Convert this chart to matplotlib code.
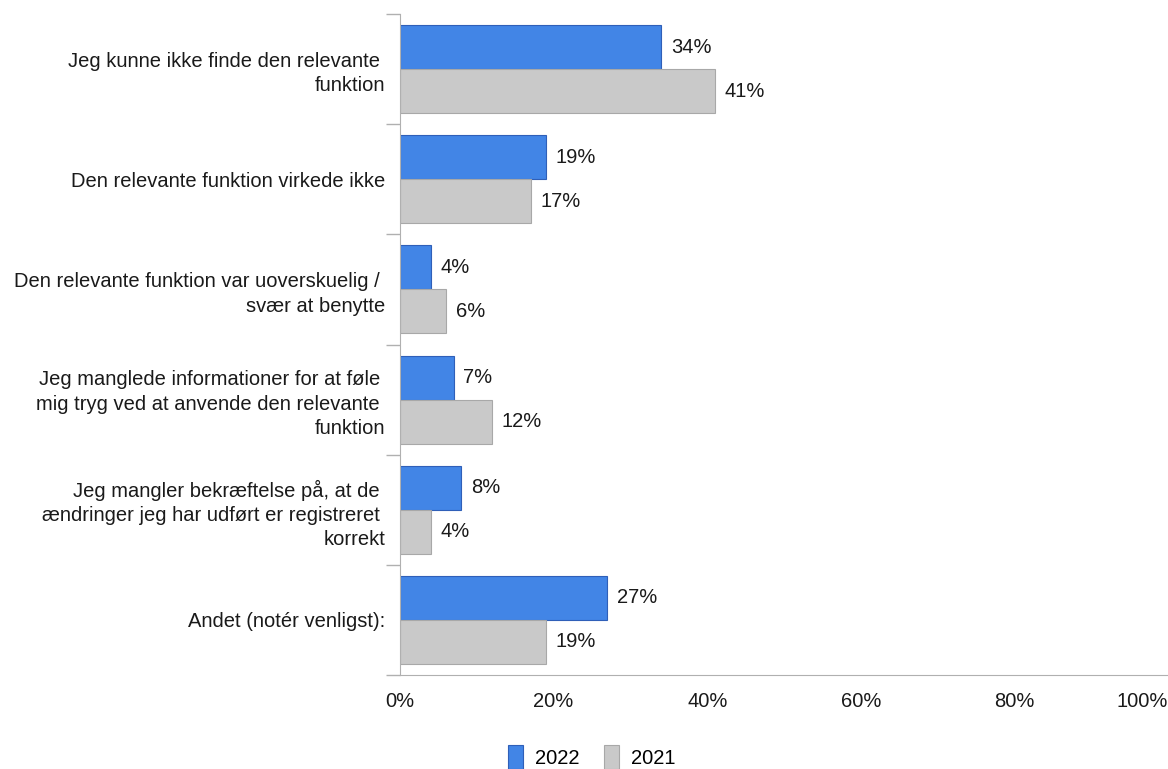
import matplotlib
matplotlib.use("Agg")
import matplotlib.pyplot as plt
import numpy as np

categories = [
    "Jeg kunne ikke finde den relevante \nfunktion",
    "Den relevante funktion virkede ikke",
    "Den relevante funktion var uoverskuelig / \nsvær at benytte",
    "Jeg manglede informationer for at føle \nmig tryg ved at anvende den relevante \nfunktion",
    "Jeg mangler bekræftelse på, at de \nændringer jeg har udført er registreret \nkorrekt",
    "Andet (notér venligst):",
]
values_2022 = [34, 19, 4, 7, 8, 27]
values_2021 = [41, 17, 6, 12, 4, 19]
series_names = ["2022", "2021"]
xticks = [0, 20, 40, 60, 80, 100]
xtick_labels = ["0%", "20%", "40%", "60%", "80%", "100%"]

plt.rcParams['font.family'] = ['Liberation Sans', 'DejaVu Sans']

W, H = 1168, 769
fig = plt.figure(figsize=(W / 100, H / 100), dpi=100)
ax = fig.add_axes([400 / W, 1 - 675 / H, 768 / W, (675 - 14) / H])

n = len(categories)
y = np.arange(n)
bh = 0.4
blue = "#4285e6"
blue_edge = "#2f5fb8"
grey = "#c9c9c9"
grey_edge = "#a8a8a8"
txt = "#1a1a1a"
fs = 14.5

b1 = ax.barh(y - bh / 2, values_2022, height=bh, color=blue, edgecolor=blue_edge, linewidth=0.8, label=series_names[0])
b2 = ax.barh(y + bh / 2, values_2021, height=bh, color=grey, edgecolor=grey_edge, linewidth=0.8, label=series_names[1])

for bars, vals in ((b1, values_2022), (b2, values_2021)):
    for bar, v in zip(bars, vals):
        ax.annotate(f"{v}%", (v, bar.get_y() + bar.get_height() / 2),
                    xytext=(7, 0), textcoords="offset points", va="center", ha="left",
                    fontsize=fs, color=txt)

ax.set_xlim(0, 100)
ax.set_ylim(n - 0.5, -0.5)

ax.set_yticks(y)
ax.set_yticklabels(categories, fontsize=fs, color=txt, linespacing=1.35)
ax.set_yticks(np.arange(n + 1) - 0.5, minor=True)
ax.tick_params(axis='y', which='major', length=0, pad=10.5)
ax.tick_params(axis='y', which='minor', length=10, color="#b0b0b0", width=1)

ax.set_xticks(xticks)
ax.set_xticklabels(xtick_labels, fontsize=fs, color=txt)
ax.tick_params(axis='x', length=0, pad=12)
lbls = ax.get_xticklabels()
lbls[-1].set_horizontalalignment('right')

for s in ("top", "right"):
    ax.spines[s].set_visible(False)
ax.spines["left"].set_color("#b0b0b0")
ax.spines["bottom"].set_color("#b0b0b0")

fig.legend(handles=[b1, b2], labels=series_names, loc="center", bbox_to_anchor=(592 / W, 1 - 757 / H),
           ncol=2, frameon=False, fontsize=fs, handlelength=0.75, handleheight=1.4, columnspacing=1.2,
           handletextpad=0.6)

fig.savefig("out.png", dpi=100)
